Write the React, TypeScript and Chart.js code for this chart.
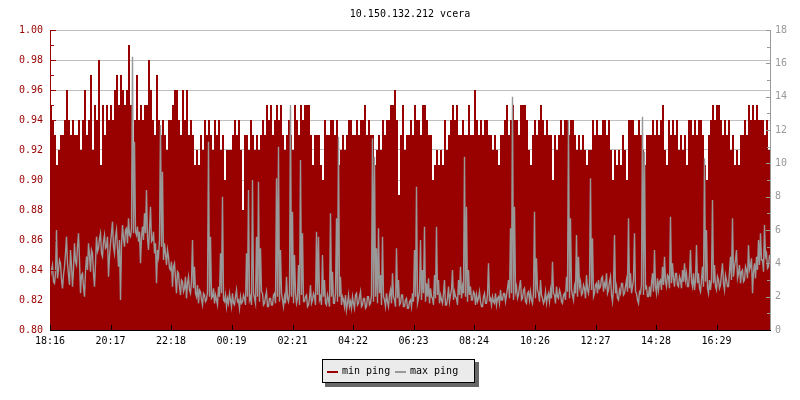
import React, { useEffect, useRef } from 'react';
import { Chart, registerables } from 'chart.js';

Chart.register(...registerables);

const TITLE = '10.150.132.212 vcera';
const SERIES_NAMES = ['min ping', 'max ping'];
const RED = '#990000';
const GREY = '#999999';
const MONO = '"DejaVu Sans Mono", "Liberation Mono", monospace';

// time axis (minutes after 18:16)
const MIN_SAMPLE_MINUTES = 4;
const MAX_SAMPLE_MINUTES = 2;
const X_MAX_MINUTES = 1440;
const X_TICK_MINUTES = [0, 121, 242, 363, 485, 606, 727, 848, 970, 1091, 1212, 1333];
const X_TICK_LABELS = ['18:16', '20:17', '22:18', '00:19', '02:21', '04:22', '06:23', '08:24', '10:26', '12:27', '14:28', '16:29'];

const LEFT_TICKS = [0.8, 0.82, 0.84, 0.86, 0.88, 0.9, 0.92, 0.94, 0.96, 0.98, 1.0];
const LEFT_TICK_LABELS = ['0.80', '0.82', '0.84', '0.86', '0.88', '0.90', '0.92', '0.94', '0.96', '0.98', '1.00'];
const RIGHT_TICKS = [0, 2, 4, 6, 8, 10, 12, 14, 16, 18];
const RIGHT_TICK_LABELS = ['0', '2', '4', '6', '8', '10', '12', '14', '16', '18'];

// min ping (left axis), one value per 4 minutes
const MIN_PING = [
  0.95,0.94,0.93,0.91,0.92,0.93,0.93,0.94,0.96,0.94,0.93,0.94,0.93,0.93,0.94,0.92,0.94,0.96,0.93,0.94,0.97,0.92,0.95,0.94,0.98,0.91,0.95,0.93,0.95,0.94,
  0.95,0.94,0.96,0.97,0.95,0.97,0.96,0.95,0.96,0.99,0.95,0.92,0.94,0.97,0.94,0.95,0.94,0.95,0.95,0.98,0.96,0.94,0.93,0.97,0.94,0.93,0.94,0.93,0.92,0.94,
  0.94,0.95,0.96,0.96,0.94,0.93,0.96,0.94,0.96,0.93,0.94,0.93,0.91,0.92,0.91,0.93,0.92,0.94,0.93,0.94,0.93,0.92,0.94,0.93,0.94,0.92,0.93,0.90,0.92,0.92,
  0.92,0.93,0.94,0.93,0.94,0.92,0.88,0.93,0.93,0.92,0.94,0.93,0.92,0.93,0.92,0.93,0.94,0.93,0.95,0.94,0.95,0.93,0.94,0.95,0.94,0.95,0.93,0.92,0.93,0.94,
  0.93,0.92,0.95,0.94,0.93,0.95,0.94,0.95,0.95,0.95,0.93,0.91,0.93,0.93,0.93,0.91,0.90,0.94,0.93,0.93,0.94,0.94,0.93,0.94,0.91,0.92,0.93,0.92,0.93,0.94,
  0.94,0.93,0.93,0.94,0.93,0.94,0.94,0.95,0.93,0.94,0.93,0.93,0.91,0.92,0.93,0.92,0.94,0.93,0.94,0.94,0.95,0.95,0.96,0.94,0.89,0.93,0.95,0.92,0.93,0.93,
  0.94,0.93,0.95,0.94,0.94,0.93,0.95,0.95,0.94,0.93,0.93,0.90,0.91,0.92,0.91,0.92,0.91,0.94,0.92,0.93,0.94,0.95,0.94,0.95,0.93,0.93,0.94,0.93,0.93,0.95,
  0.93,0.93,0.96,0.94,0.93,0.94,0.93,0.94,0.94,0.93,0.93,0.92,0.93,0.92,0.91,0.93,0.93,0.94,0.95,0.93,0.94,0.95,0.94,0.94,0.93,0.95,0.95,0.95,0.94,0.92,
  0.91,0.93,0.94,0.93,0.94,0.95,0.94,0.93,0.94,0.93,0.93,0.90,0.93,0.92,0.93,0.94,0.93,0.94,0.94,0.93,0.94,0.94,0.93,0.92,0.93,0.92,0.93,0.92,0.91,0.92,
  0.92,0.94,0.93,0.94,0.93,0.93,0.94,0.94,0.93,0.94,0.92,0.90,0.92,0.91,0.92,0.91,0.93,0.92,0.90,0.94,0.94,0.94,0.93,0.93,0.94,0.93,0.92,0.91,0.93,0.93,
  0.93,0.94,0.93,0.94,0.93,0.94,0.95,0.92,0.91,0.94,0.93,0.94,0.93,0.94,0.92,0.93,0.92,0.93,0.91,0.94,0.94,0.93,0.94,0.93,0.94,0.94,0.93,0.91,0.90,0.93,
  0.94,0.95,0.94,0.95,0.95,0.94,0.93,0.94,0.93,0.94,0.92,0.93,0.91,0.92,0.91,0.93,0.93,0.94,0.93,0.95,0.94,0.95,0.94,0.95,0.94,0.94,0.94,0.93,0.94,0.92,
];

// max ping (right axis), one value per 2 minutes
const MAX_PING = [
  3.2,3.6,3.9,2.9,2.8,3.4,6.0,3.1,3.6,4.2,4.0,3.0,2.5,3.3,3.8,4.6,5.6,4.0,3.3,2.7,
  4.8,3.9,2.6,3.6,5.2,4.1,3.9,5.0,5.8,4.2,2.2,3.3,3.4,2.6,2.0,3.5,4.4,3.6,5.2,4.5,
  3.5,4.8,4.6,3.4,2.6,4.0,5.6,4.7,4.9,5.5,5.8,4.6,4.4,5.3,5.7,4.9,5.0,5.6,3.2,4.4,
  5.2,5.8,6.5,5.0,4.6,5.6,6.0,4.9,3.8,5.4,1.8,5.1,6.3,5.5,5.0,6.0,6.1,5.2,6.7,5.7,
  5.6,6.1,16.4,5.8,11.3,5.9,5.7,6.2,5.3,5.9,4.0,5.6,6.2,5.4,7.0,5.8,8.4,5.5,4.8,6.0,
  7.4,5.3,5.4,5.9,4.6,5.2,2.8,4.8,4.4,5.4,12.3,5.0,9.5,4.2,5.2,4.6,3.9,4.8,4.4,3.7,
  3.6,4.1,2.6,3.8,4.0,3.1,2.2,3.5,3.4,2.6,2.1,3.0,2.9,2.3,2.5,3.2,1.9,2.8,3.2,2.4,
  2.2,2.9,5.4,2.5,3.8,2.2,2.0,2.7,1.6,2.4,2.3,1.8,1.5,2.2,2.1,1.7,1.8,2.3,11.3,2.0,
  5.6,1.9,2.0,2.5,1.6,2.1,1.8,1.5,2.6,2.0,4.6,2.2,8.0,1.8,1.7,2.1,1.4,1.9,1.6,2.2,
  1.8,1.4,2.2,1.6,1.5,2.0,2.4,1.7,1.8,1.3,2.0,1.6,1.7,2.1,1.9,1.5,4.6,2.0,8.4,1.8,
  2.0,1.5,9.0,2.2,1.9,1.6,5.6,2.0,8.9,1.7,4.9,2.3,2.2,1.5,1.6,2.0,2.3,1.4,1.4,1.9,
  1.9,1.5,1.5,2.1,2.2,1.6,9.1,2.0,11.0,1.7,4.8,2.2,1.8,1.4,2.0,1.6,3.2,1.9,1.7,2.2,
  13.5,2.0,7.1,1.6,4.5,2.2,1.6,1.9,3.9,1.5,10.2,2.1,5.8,1.7,1.7,2.0,2.1,1.4,1.5,1.9,
  2.7,1.6,1.8,2.2,2.0,1.5,5.9,2.1,5.6,1.8,2.0,1.5,4.5,2.0,3.0,1.6,1.5,2.1,1.8,1.4,
  7.0,2.0,3.5,1.6,1.6,2.2,6.7,1.7,11.6,2.0,3.2,1.5,2.0,1.8,1.4,2.1,1.2,1.6,2.1,1.4,
  1.7,1.3,2.0,1.6,1.3,2.1,2.2,1.5,1.6,2.0,2.3,1.4,1.5,1.9,1.9,1.3,1.4,2.0,2.0,1.5,
  1.6,2.1,11.5,1.7,10.4,2.0,4.9,1.6,6.1,2.2,3.3,1.5,5.6,2.0,1.8,1.4,2.2,1.7,1.4,2.1,
  2.4,1.6,3.4,2.0,1.8,1.4,4.9,1.9,3.0,1.5,1.6,2.1,2.1,1.4,1.4,1.8,1.9,1.3,1.3,1.7,
  1.8,1.4,2.2,1.7,4.8,2.0,8.6,1.6,1.9,2.3,5.4,1.8,3.6,2.2,6.2,1.7,2.8,2.0,3.1,1.6,
  2.5,2.0,1.9,1.5,3.3,1.9,6.2,2.1,3.0,1.6,2.1,1.8,1.6,2.2,3.0,1.5,1.5,1.9,2.6,1.7,
  2.1,2.4,3.6,1.8,2.3,2.0,1.9,1.5,3.0,2.1,3.8,1.9,2.6,2.2,10.4,2.0,7.4,1.7,3.6,2.1,
  2.6,1.8,1.8,2.3,2.2,1.5,2.1,1.7,1.9,2.3,1.7,1.4,1.4,2.0,2.2,1.6,1.6,2.1,4.0,1.8,
  1.9,1.5,2.0,1.7,1.6,2.2,1.5,1.9,2.0,1.6,2.4,1.8,1.8,2.2,2.2,1.7,2.1,2.5,3.0,1.9,
  6.1,2.2,14.0,1.8,7.4,2.3,2.6,1.9,2.1,2.6,3.0,1.8,1.9,2.4,2.5,1.7,1.6,2.2,2.3,1.8,
  2.3,1.8,1.6,2.2,7.1,1.9,4.3,2.4,2.2,1.7,3.0,2.1,1.9,1.6,1.8,2.3,1.6,2.0,2.2,1.7,
  2.4,1.9,4.1,2.2,2.1,1.6,2.6,2.0,1.9,2.4,2.2,1.7,1.6,2.1,2.2,1.8,3.2,2.3,12.6,1.9,
  6.7,2.4,2.1,1.8,2.6,2.2,5.7,2.0,4.4,2.6,2.9,2.1,2.2,2.7,2.5,1.9,3.3,2.4,2.2,2.8,
  9.1,2.4,5.5,2.0,2.2,2.7,2.8,2.2,3.0,2.5,2.6,3.1,3.2,2.3,2.8,2.6,3.4,2.2,2.4,2.9,
  3.2,2.1,1.7,2.5,5.7,2.2,2.6,1.9,1.8,2.4,2.2,2.8,2.8,2.1,2.2,2.6,3.0,2.3,6.7,2.5,
  3.4,2.2,2.6,3.0,5.8,2.3,2.2,1.8,1.6,2.3,2.2,2.7,12.8,2.1,10.7,2.5,2.6,2.0,2.0,2.6,
  2.0,2.8,3.4,2.3,4.8,2.6,2.2,3.1,2.4,2.9,3.0,2.4,3.8,2.7,4.4,2.9,2.6,3.3,3.2,2.5,
  6.8,2.8,4.0,3.1,2.6,3.4,3.4,2.7,2.6,3.2,3.0,2.5,3.6,2.9,4.0,3.0,3.4,2.6,2.6,3.3,
  4.8,2.9,2.6,3.4,2.4,3.0,5.1,2.8,3.4,2.5,2.3,3.0,3.8,2.6,10.3,2.9,6.0,2.5,2.2,3.0,
  2.4,3.0,7.8,2.8,3.9,2.6,2.4,3.2,3.0,2.5,2.7,3.4,4.0,2.8,2.4,3.3,3.0,2.6,2.6,3.5,
  4.4,3.0,6.7,3.2,3.8,4.2,4.8,3.1,3.4,3.9,2.8,3.5,3.6,2.9,3.0,3.8,3.6,3.1,5.1,3.6,
  3.8,4.3,2.2,3.5,4.0,3.1,4.4,3.6,5.4,3.9,5.8,4.2,4.2,3.5,6.3,4.4,4.6,3.7,3.8,4.5,
];

// each min-ping sample holds for its interval; the last step is closed at the axis end
function toSteps(values: number[]) {
  const pts = values.map((v, i) => ({ x: i * MIN_SAMPLE_MINUTES, y: v }));
  pts.push({ x: X_MAX_MINUTES, y: values[values.length - 1] });
  return pts;
}

// max-ping samples placed at the centre of their interval
function toPoints(values: number[]) {
  return values.map((v, i) => ({ x: i * MAX_SAMPLE_MINUTES + MAX_SAMPLE_MINUTES / 2, y: v }));
}

const decorPlugin = {
  id: 'rrdDecor',
  afterDatasetsDraw(chart: any) {
    const { ctx, chartArea: a, scales } = chart;
    ctx.save();
    ctx.lineWidth = 1;
    // left axis (red) with inward ticks
    ctx.strokeStyle = RED;
    ctx.beginPath();
    ctx.moveTo(a.left + 0.5, a.top);
    ctx.lineTo(a.left + 0.5, a.bottom);
    for (let k = 0; k <= 20; k++) {
      const y = Math.round(scales.y.getPixelForValue(0.8 + k * 0.01)) + 0.5;
      const len = k % 2 === 0 ? 5 : 3;
      ctx.moveTo(a.left, y);
      ctx.lineTo(a.left + len + 1, y);
    }
    ctx.stroke();
    // right axis (grey)
    ctx.strokeStyle = GREY;
    ctx.beginPath();
    ctx.moveTo(a.right + 0.5, a.top);
    ctx.lineTo(a.right + 0.5, a.bottom);
    for (let k = 0; k <= 18; k++) {
      const y = Math.round(scales.y2.getPixelForValue(k)) + 0.5;
      const len = k % 2 === 0 ? 4 : 3;
      ctx.moveTo(a.right + 1, y);
      ctx.lineTo(a.right - len, y);
    }
    ctx.stroke();
    // bottom axis (black)
    ctx.strokeStyle = '#000';
    ctx.beginPath();
    ctx.moveTo(a.left, a.bottom + 0.5);
    ctx.lineTo(a.right + 1, a.bottom + 0.5);
    X_TICK_MINUTES.forEach((m) => {
      const x = Math.round(scales.x.getPixelForValue(m)) + 0.5;
      ctx.moveTo(x, a.bottom);
      ctx.lineTo(x, a.bottom - 5);
    });
    ctx.stroke();
    ctx.restore();
  },
  afterDraw(chart: any) {
    const { ctx, chartArea: a } = chart;
    ctx.save();
    ctx.font = '10px ' + MONO;
    ctx.textBaseline = 'middle';
    ctx.fillStyle = '#000';
    ctx.textAlign = 'center';
    ctx.fillText(TITLE, (a.left + a.right) / 2, 14);
    // legend box with shadow
    const bx = 322, by = 359, bw = 153, bh = 24;
    ctx.fillStyle = '#666666';
    ctx.fillRect(bx + 3, by + 3, bw + 1, bh + 1);
    ctx.fillStyle = '#ebebeb';
    ctx.fillRect(bx, by, bw, bh);
    ctx.strokeStyle = '#000';
    ctx.strokeRect(bx + 0.5, by + 0.5, bw - 1, bh - 1);
    ctx.textAlign = 'left';
    ctx.fillStyle = RED;
    ctx.fillRect(327, 371, 11, 2);
    ctx.fillStyle = '#000';
    ctx.fillText(SERIES_NAMES[0], 342, 371);
    ctx.fillStyle = GREY;
    ctx.fillRect(395, 371, 11, 2);
    ctx.fillStyle = '#000';
    ctx.fillText(SERIES_NAMES[1], 410, 371);
    ctx.restore();
  },
};

export default function App() {
  const ref = useRef<HTMLCanvasElement>(null);
  useEffect(() => {
    if (!ref.current) return;
    const font = { family: MONO, size: 10 };
    const chart = new Chart(ref.current, {
      type: 'line',
      data: {
        datasets: [
          {
            label: SERIES_NAMES[0],
            data: toSteps(MIN_PING),
            yAxisID: 'y',
            stepped: 'before',
            fill: 'start',
            backgroundColor: RED,
            borderColor: 'rgba(0,0,0,0)',
            borderWidth: 1,
            pointRadius: 0,
            order: 2,
          },
          {
            label: SERIES_NAMES[1],
            data: toPoints(MAX_PING),
            yAxisID: 'y2',
            fill: false,
            tension: 0,
            borderColor: GREY,
            backgroundColor: GREY,
            borderWidth: 1.4,
            pointRadius: 0,
            order: 1,
          },
        ],
      },
      options: {
        responsive: false,
        animation: false,
        devicePixelRatio: 1,
        parsing: false,
        layout: { padding: { top: 30, left: 0, right: 0, bottom: 0 } },
        plugins: { legend: { display: false }, tooltip: { enabled: false }, title: { display: false } },
        scales: {
          x: {
            type: 'linear',
            min: 0,
            max: X_MAX_MINUTES,
            grid: { display: false, drawTicks: false },
            border: { display: false },
            afterBuildTicks: (s: any) => { s.ticks = X_TICK_MINUTES.map((v) => ({ value: v })); },
            ticks: { autoSkip: false, maxRotation: 0, padding: 5, color: '#000', font, callback: (_v: any, i: number) => X_TICK_LABELS[i] },
            afterFit: (s: any) => { s.height = 70; },
          },
          y: {
            position: 'left',
            min: 0.8,
            max: 1.0,
            grid: { color: '#c0c0c0', drawTicks: false },
            border: { display: false },
            afterBuildTicks: (s: any) => { s.ticks = LEFT_TICKS.map((v) => ({ value: v })); },
            ticks: { padding: 7, color: RED, font, callback: (_v: any, i: number) => LEFT_TICK_LABELS[i] },
            afterFit: (s: any) => { s.width = 50; },
          },
          y2: {
            position: 'right',
            min: 0,
            max: 18,
            grid: { display: false, drawTicks: false },
            border: { display: false },
            afterBuildTicks: (s: any) => { s.ticks = RIGHT_TICKS.map((v) => ({ value: v })); },
            ticks: { padding: 5, color: GREY, font, callback: (_v: any, i: number) => RIGHT_TICK_LABELS[i] },
            afterFit: (s: any) => { s.width = 30; },
          },
        },
      },
      plugins: [decorPlugin],
    } as any);
    return () => chart.destroy();
  }, []);
  return (
    <div style={{ position: 'fixed', left: 0, top: 0, width: 800, height: 400, background: '#fff' }}>
      <canvas ref={ref} width={800} height={400} style={{ display: 'block', width: 800, height: 400 }} />
    </div>
  );
}
